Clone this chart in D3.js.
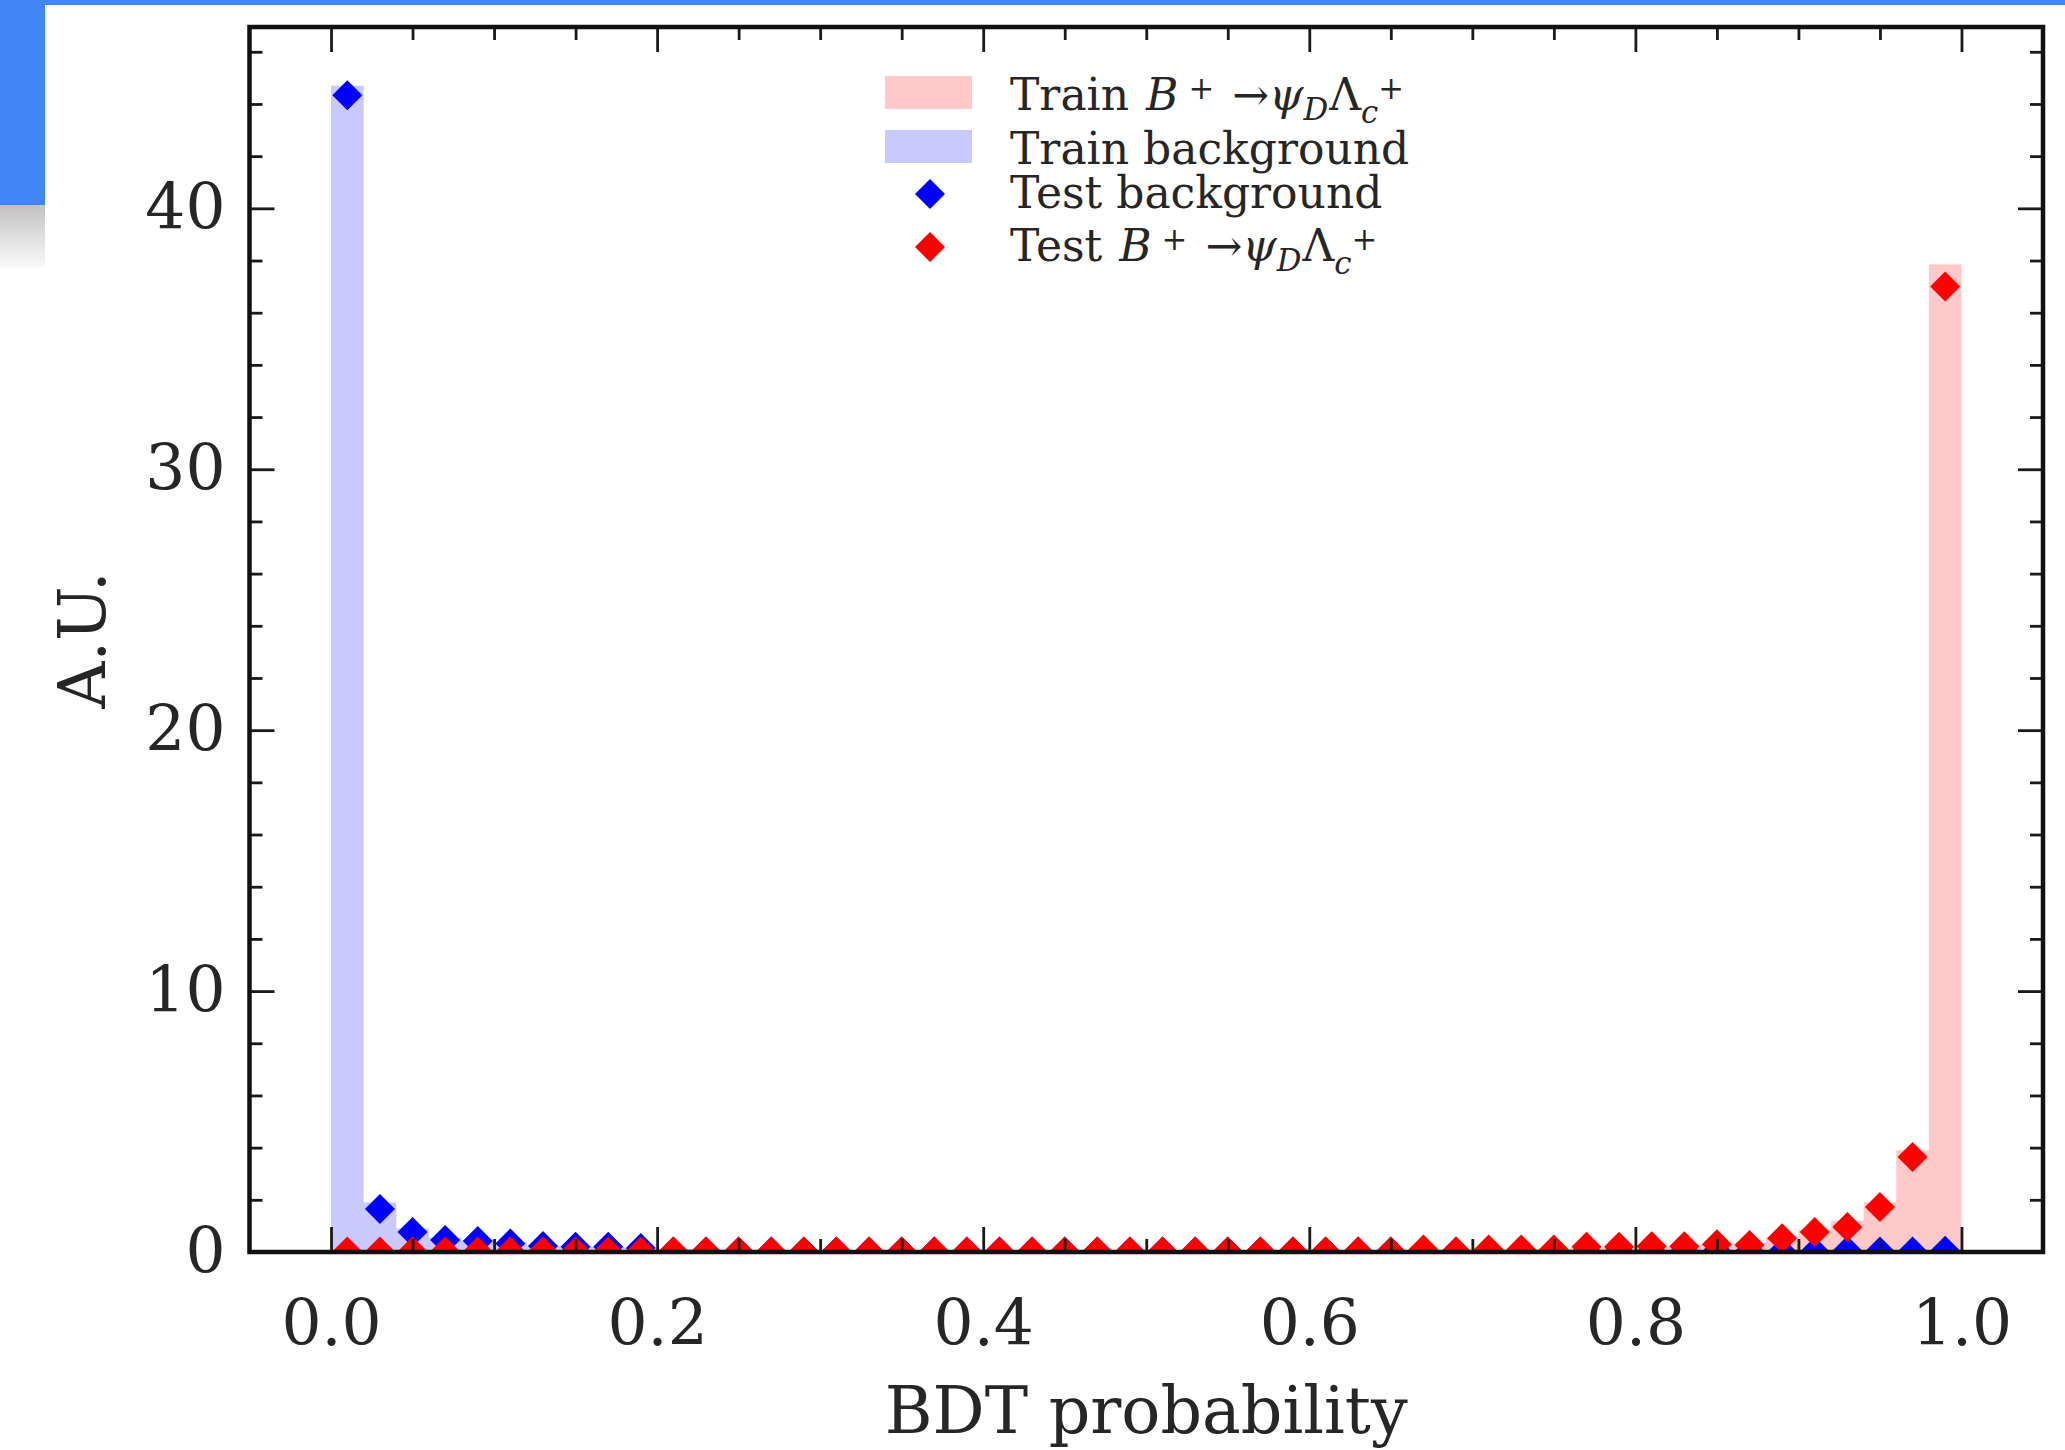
<!DOCTYPE html>
<html><head><meta charset="utf-8">
<script src="https://cdn.jsdelivr.net/npm/d3@7"></script>
<style>body{margin:0;background:#fff;overflow:hidden;} svg{display:block;}</style>
</head><body>
<svg id="chart" width="2065" height="1450"></svg>
<script>
// ---------------- data ----------------
const binLow = [0.00,0.02,0.04,0.06,0.08,0.10,0.12,0.14,0.16,0.18,
                0.20,0.22,0.24,0.26,0.28,0.30,0.32,0.34,0.36,0.38,
                0.40,0.42,0.44,0.46,0.48,0.50,0.52,0.54,0.56,0.58,
                0.60,0.62,0.64,0.66,0.68,0.70,0.72,0.74,0.76,0.78,
                0.80,0.82,0.84,0.86,0.88,0.90,0.92,0.94,0.96,0.98];
const binWidth = 0.02;
const trainSignal = [0.02,0.02,0.02,0.02,0.02,0.02,0.02,0.02,0.02,0.02,
                     0.02,0.02,0.02,0.02,0.02,0.02,0.02,0.02,0.02,0.02,
                     0.02,0.02,0.02,0.02,0.02,0.02,0.02,0.02,0.02,0.02,
                     0.03,0.03,0.04,0.08,0.05,0.08,0.10,0.12,0.15,0.18,
                     0.20,0.25,0.30,0.35,0.55,0.85,1.20,1.90,3.90,37.85];
const trainBackground = [44.70,1.90,0.90,0.55,0.45,0.35,0.25,0.22,0.20,0.16,
                         0.12,0.10,0.09,0.08,0.07,0.06,0.06,0.05,0.05,0.05,
                         0.04,0.04,0.04,0.04,0.03,0.03,0.03,0.03,0.03,0.03,
                         0.03,0.03,0.03,0.03,0.03,0.03,0.03,0.03,0.03,0.03,
                         0.03,0.03,0.03,0.03,0.03,0.04,0.05,0.04,0.04,0.06];
const testBackground = [44.33,1.65,0.77,0.46,0.42,0.33,0.23,0.20,0.20,0.15,
                        0.02,0.02,0.02,0.02,0.02,0.02,0.02,0.02,0.02,0.02,
                        0.02,0.02,0.02,0.02,0.02,0.02,0.02,0.02,0.02,0.02,
                        0.02,0.02,0.02,0.02,0.02,0.02,0.02,0.02,0.02,0.02,
                        0.02,0.02,0.02,0.02,0.00,0.01,0.05,0.02,0.02,0.05];
const testSignal = [0.02,0.02,0.02,0.02,0.02,0.02,0.02,0.02,0.02,0.02,
                    0.02,0.02,0.02,0.02,0.02,0.02,0.02,0.02,0.02,0.02,
                    0.02,0.02,0.02,0.02,0.02,0.02,0.02,0.02,0.02,0.02,
                    0.02,0.02,0.02,0.10,0.02,0.10,0.10,0.10,0.20,0.20,
                    0.22,0.22,0.30,0.27,0.53,0.77,0.96,1.72,3.64,37.00];
const xTicks = [0.0,0.2,0.4,0.6,0.8,1.0];
const xTickLabels = ["0.0","0.2","0.4","0.6","0.8","1.0"];
const xMinorTicks = [0.05,0.1,0.15,0.25,0.3,0.35,0.45,0.5,0.55,0.65,0.7,0.75,0.85,0.9,0.95];
const yTicks = [0,10,20,30,40];
const yTickLabels = ["0","10","20","30","40"];
const yMinorTicks = [2,4,6,8,12,14,16,18,22,24,26,28,32,34,36,38,42,44,46];
const xLabel = "BDT probability";
const yLabel = "A.U.";
const legendLabels = ["Train", "Train background", "Test background", "Test"];

// ---------------- setup ----------------
const FONT = "'DejaVu Serif', serif";
const TEXT = "#262626";
const svg = d3.select("#chart");

// screenshot decorations
const defs = svg.append("defs");
const grad = defs.append("linearGradient").attr("id","fade").attr("x1",0).attr("y1",0).attr("x2",0).attr("y2",1);
grad.append("stop").attr("offset","0%").attr("stop-color","#c2c2c2");
grad.append("stop").attr("offset","100%").attr("stop-color","#f9f9f9");
svg.append("rect").attr("x",0).attr("y",0).attr("width",2065).attr("height",5).attr("fill","#4285f4");
svg.append("rect").attr("x",0).attr("y",0).attr("width",45).attr("height",205).attr("fill","#4285f4");
svg.append("rect").attr("x",0).attr("y",205).attr("width",45).attr("height",62).attr("fill","url(#fade)");

const L = 249.5, R = 2043, T = 27, B = 1252;
const x = d3.scaleLinear().domain([-0.05, 1.05]).range([L, R]);
const y = d3.scaleLinear().domain([0, 46.95]).range([B, T]);

defs.append("clipPath").attr("id","clip").append("rect")
  .attr("x",L).attr("y",T).attr("width",R-L).attr("height",B-T);
const plot = svg.append("g").attr("clip-path","url(#clip)");

function bars(vals, color, cls){
  plot.selectAll("rect."+cls).data(vals.map((v,i)=>({b:binLow[i], v})))
    .join("rect").attr("class",cls)
    .attr("x", d=>x(d.b)).attr("width", d=>x(d.b+binWidth)-x(d.b))
    .attr("y", d=>y(d.v)).attr("height", d=>y(0)-y(d.v))
    .attr("fill", color).attr("fill-opacity",0.21);
}
bars(trainSignal, "#ff0000", "sig");
bars(trainBackground, "#0000ff", "bkg");

const diamond = "M0,-15L15,0L0,15L-15,0Z";
function points(vals, color, cls){
  plot.selectAll("path."+cls).data(vals.map((v,i)=>({c:binLow[i]+binWidth/2, v})))
    .join("path").attr("class",cls).attr("d",diamond)
    .attr("transform", d=>`translate(${x(d.c)},${y(d.v)})`)
    .attr("fill", color);
}
points(testBackground, "#0000ff", "tb");
points(testSignal, "#ff0000", "ts");

// ---------------- axes ----------------
function styleAxis(g){
  g.select(".domain").remove();
  g.selectAll("line").attr("stroke","#1a1a1a").attr("stroke-width", 2.8);
  g.selectAll("text").attr("font-family",FONT).attr("font-size",63).attr("fill",TEXT);
}
const MAJ = -25, MIN = -13;
svg.append("g").attr("transform",`translate(0,${B})`)
  .call(d3.axisBottom(x).tickValues(xTicks).tickFormat((d,i)=>xTickLabels[i]).tickSize(MAJ).tickPadding(48))
  .call(styleAxis);
svg.append("g").attr("transform",`translate(0,${B})`)
  .call(d3.axisBottom(x).tickValues(xMinorTicks).tickFormat("").tickSize(MIN)).call(styleAxis);
svg.append("g").attr("transform",`translate(0,${T})`)
  .call(d3.axisTop(x).tickValues(xTicks).tickFormat("").tickSize(MAJ)).call(styleAxis);
svg.append("g").attr("transform",`translate(0,${T})`)
  .call(d3.axisTop(x).tickValues(xMinorTicks).tickFormat("").tickSize(MIN)).call(styleAxis);
svg.append("g").attr("transform",`translate(${L},0)`)
  .call(d3.axisLeft(y).tickValues(yTicks).tickFormat((d,i)=>yTickLabels[i]).tickSize(MAJ).tickPadding(24))
  .call(styleAxis);
svg.append("g").attr("transform",`translate(${L},0)`)
  .call(d3.axisLeft(y).tickValues(yMinorTicks).tickFormat("").tickSize(MIN)).call(styleAxis);
svg.append("g").attr("transform",`translate(${R},0)`)
  .call(d3.axisRight(y).tickValues(yTicks).tickFormat("").tickSize(MAJ)).call(styleAxis);
svg.append("g").attr("transform",`translate(${R},0)`)
  .call(d3.axisRight(y).tickValues(yMinorTicks).tickFormat("").tickSize(MIN)).call(styleAxis);

svg.append("rect").attr("x",L).attr("y",T).attr("width",R-L).attr("height",B-T)
  .attr("fill","none").attr("stroke","#111").attr("stroke-width",4.5);

svg.append("text").attr("x",(L+R)/2).attr("y",1433).attr("text-anchor","middle")
  .attr("font-family",FONT).attr("font-size",65).attr("fill",TEXT).text(xLabel);
svg.append("text").attr("transform","translate(105,640) rotate(-90)").attr("text-anchor","middle")
  .attr("font-family",FONT).attr("font-size",65).attr("fill",TEXT).text(yLabel);

// ---------------- legend ----------------
const LFS = 44;
// pieces of the decay formula B^+ -> psi_D Lambda_c^+ ; gap = extra space before the piece (px)
const decay = [
  {t:"B", it:1, gap:0},
  {t:"+", sz:.7, sh:.26, gap:10},
  {t:"→", gap:18},
  {t:"ψ", it:1, gap:0},
  {t:"D", it:1, sz:.7, sh:-.23, gap:0},
  {t:"Λ", gap:1},
  {t:"c", it:1, sz:.7, sh:-.3, gap:0},
  {t:"+", sz:.7, sh:.26, gap:0}
];
function legendText(x0, y0, label, withDecay){
  const g = svg.append("g");
  const t = g.append("text").attr("x",x0).attr("y",y0)
    .attr("font-family",FONT).attr("font-size",LFS).attr("fill",TEXT).text(label);
  if (!withDecay) return;
  let cx = x0 + t.node().getComputedTextLength() + 17;
  decay.forEach(p=>{
    cx += p.gap;
    const s = g.append("text").attr("x",cx).attr("y",y0 - (p.sh||0)*LFS)
      .attr("font-family",FONT).attr("font-size",(p.sz||1)*LFS).attr("fill",TEXT).text(p.t);
    if (p.it) s.attr("font-style","italic");
    cx += s.node().getComputedTextLength();
  });
}
const legendItems = [
  {type:"patch", color:"#ff0000", label:legendLabels[0], decay:true,  y:110},
  {type:"patch", color:"#0000ff", label:legendLabels[1], decay:false, y:164},
  {type:"point", color:"#0000ff", label:legendLabels[2], decay:false, y:208},
  {type:"point", color:"#ff0000", label:legendLabels[3], decay:true,  y:261}
];
legendItems.forEach(it=>{
  if (it.type==="patch"){
    svg.append("rect").attr("x",885).attr("y",it.y-34).attr("width",87).attr("height",33)
      .attr("fill",it.color).attr("fill-opacity",0.21);
  } else {
    svg.append("path").attr("d",diamond).attr("transform",`translate(930,${it.y-14})`).attr("fill",it.color);
  }
  legendText(1010, it.y, it.label, it.decay);
});
</script>
</body></html>
